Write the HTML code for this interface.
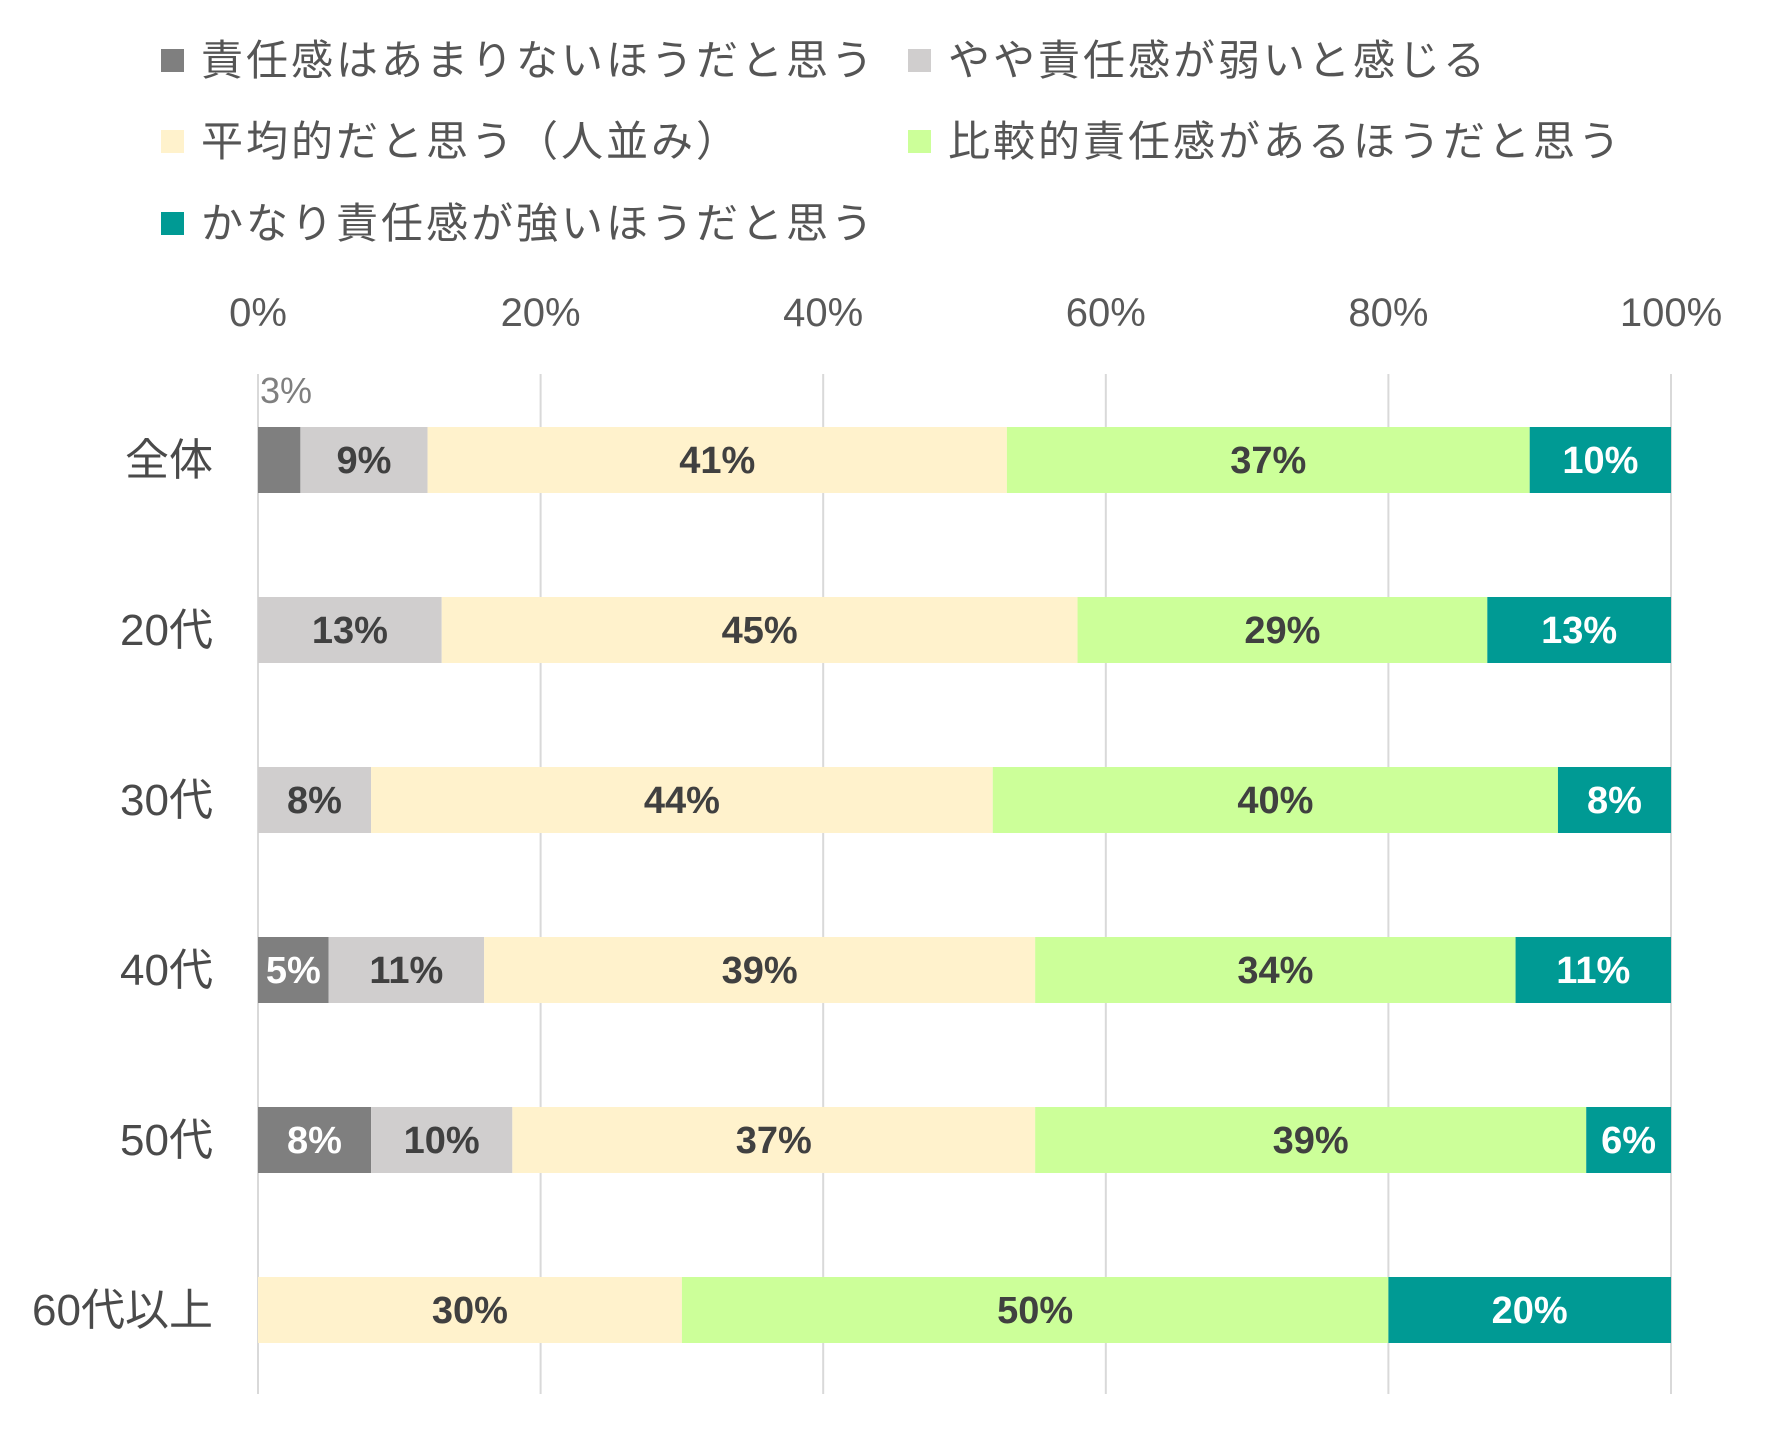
<!DOCTYPE html>
<html><head><meta charset="utf-8">
<style>
html,body{margin:0;padding:0;background:#fff;}
body{width:1771px;height:1437px;overflow:hidden;font-family:"Liberation Sans","Noto Sans CJK JP",sans-serif;}
</style></head>
<body>
<svg id="chart" width="1771" height="1437" xmlns="http://www.w3.org/2000/svg"></svg>
<script>
const categories = ["全体","20代","30代","40代","50代","60代以上"];
const seriesNames = ["責任感はあまりないほうだと思う","やや責任感が弱いと感じる","平均的だと思う（人並み）","比較的責任感があるほうだと思う","かなり責任感が強いほうだと思う"];
const s1 = [3,0,0,5,8,0];
const s2 = [9,13,8,11,10,0];
const s3 = [41,45,44,39,37,30];
const s4 = [37,29,40,34,39,50];
const s5 = [10,13,8,11,6,20];
const tickValues = [0,20,40,60,80,100];

const series = [s1,s2,s3,s4,s5];
const colors = ["#7f7f7f","#d0cece","#fff2cc","#ccff99","#009a94"];
const labelColors = ["#ffffff","#404040","#404040","#404040","#ffffff"];
const NS = "http://www.w3.org/2000/svg";
const svg = document.getElementById('chart');
const x0 = 258, x1 = 1671;
const xs = v => x0 + (x1 - x0) * v / 100;
const yc = i => 460 + i * 170;
const barH = 66;
function mk(tag, attrs, parent){const e=document.createElementNS(NS,tag);for(const k in attrs)e.setAttribute(k,attrs[k]);(parent||svg).appendChild(e);return e;}

tickValues.forEach(t=>{
  const g = mk('line',{x1:xs(t),x2:xs(t),y1:374,y2:1394,stroke:'#d9d9d9','stroke-width':2});
  
  
  const tx = mk('text',{x:xs(t),y:326,'text-anchor':'middle','font-size':40,fill:'#595959'});
  
  
  tx.textContent = t + '%';
});

categories.forEach((c,i)=>{
  const cl = mk('text',{x:213,y:yc(i)+15,'text-anchor':'end','font-size':44,fill:'#4a4a4a'});
  
  
  cl.textContent = c;
  let cum = 0;
  series.forEach((s,k)=>{
    const v = s[i];
    if(v>0){
      const r = mk('rect',{x:xs(cum),y:yc(i)-barH/2,width:xs(cum+v)-xs(cum),height:barH,fill:colors[k]});
      
      
      let lx = (xs(cum)+xs(cum+v))/2, ly = yc(i)+13, col = labelColors[k];
      if(v<4){ lx = xs(cum)+2; ly = yc(i)-barH/2-24; col='#7f7f7f'; }
      const lt = mk('text',{x:lx,y:ly,'text-anchor':v<4?'start':'middle','font-size':v<4?36:38,'font-weight':v<4?'normal':'bold',fill:col});
      
      
      lt.textContent = v + '%';
    }
    cum += v;
  });
});

const legendPos = [[161,60],[908,60],[161,141],[908,141],[161,223]];
seriesNames.forEach((n,k)=>{
  const [lx,ly] = legendPos[k];
  const sq = mk('rect',{x:lx,y:ly-11,width:23,height:23,fill:colors[k]});
  
  
  const t = mk('text',{x:lx+40,y:ly+15,'font-size':42,'letter-spacing':3,fill:'#555555'});
  
  
  t.textContent = n;
});
</script>
</body></html>
